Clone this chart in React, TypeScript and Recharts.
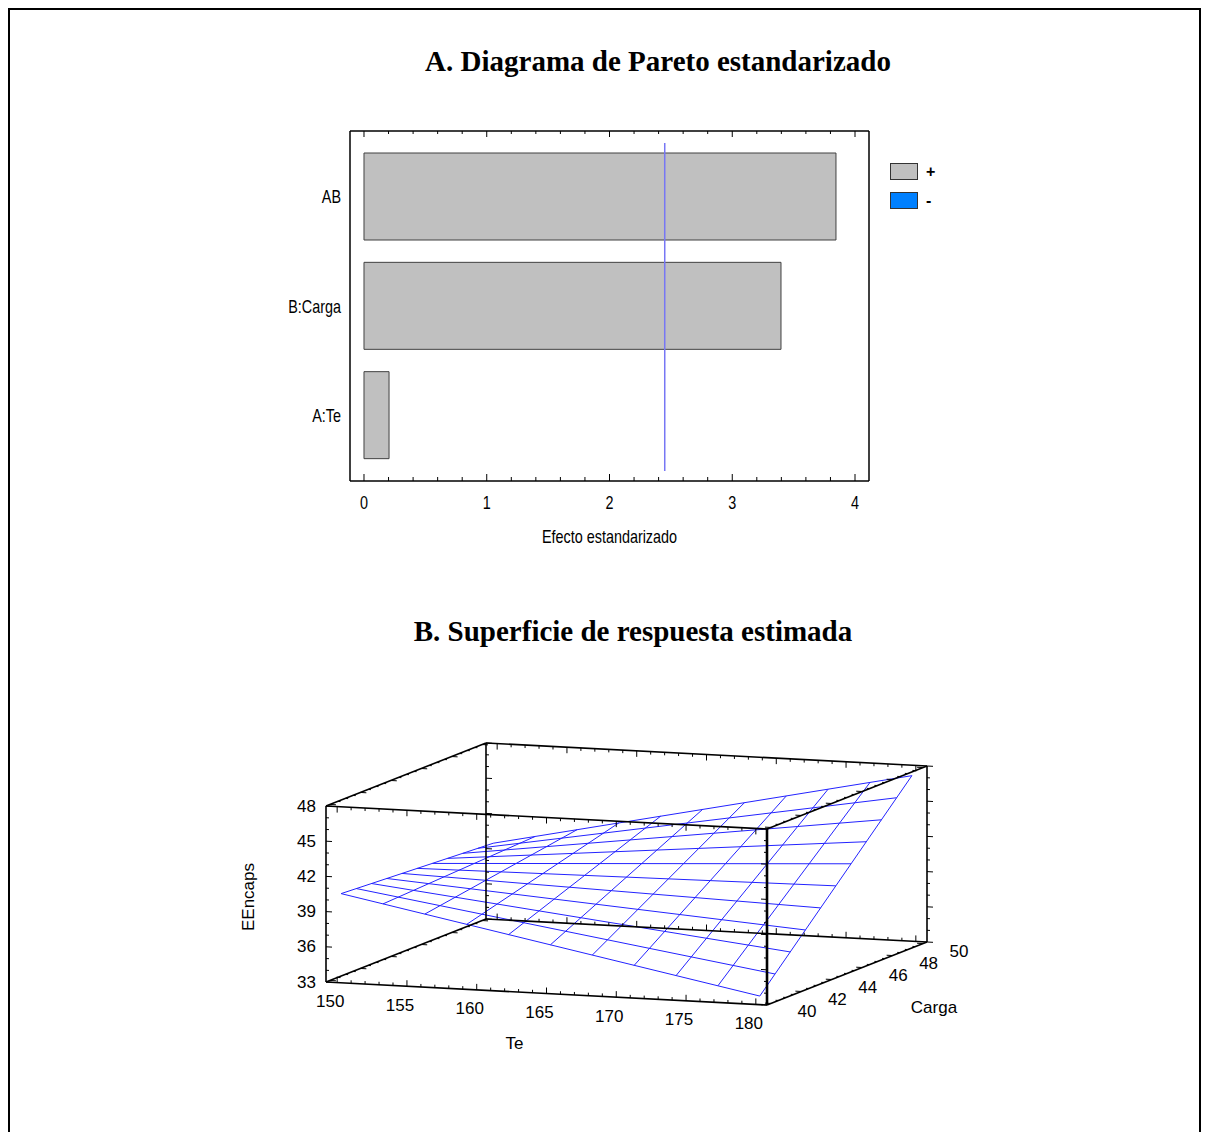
import {
  BarChart, Bar, XAxis, YAxis, ReferenceLine, Legend,
  ComposedChart, Line, Scatter,
} from 'recharts'

// ---- A. Pareto chart ----
const effectNames = ['AB', 'B:Carga', 'A:Te']
const effectValues = [3.845, 3.397, 0.204]
const effectTicks = [0, 1, 2, 3, 4]
const criticalEffect = 2.45
const signLabels = ['+', '-']
const signColors = ['#c0c0c0', '#0080ff']

// ---- B. response surface ----
const teTicks = [150, 155, 160, 165, 170, 175, 180]
const cargaTicks = [40, 42, 44, 46, 48, 50]
const eeTicks = [33, 36, 39, 42, 45, 48]
const teGrid = [150, 153, 156, 159, 162, 165, 168, 171, 174, 177, 180]
const cargaGrid = [40, 41, 42, 43, 44, 45, 46, 47, 48, 49, 50]
// EEncaps read along the four edges of the surface
const eeCarga40 = [40.45, 39.76, 39.08, 38.39, 37.7, 37.02, 36.33, 35.64, 34.95, 34.27, 33.58]
const eeCarga50 = [39.64, 40.4, 41.16, 41.93, 42.69, 43.45, 44.21, 44.97, 45.74, 46.5, 47.26]
const eeTe150 = [40.45, 40.37, 40.29, 40.21, 40.13, 40.05, 39.96, 39.88, 39.8, 39.72, 39.64]
const eeTe180 = [33.58, 34.95, 36.32, 37.68, 39.05, 40.42, 41.79, 43.16, 44.52, 45.89, 47.26]

const paretoData = effectNames.map((name, i) => ({ name, value: effectValues[i] }))
const paretoAxisTicks = Array.from({ length: 21 }, (_, i) => Math.round(i * 2) / 10)
const xDomain = [-0.114, 4.114]

const sans = "'Liberation Sans', Arial, sans-serif"
const serif = "'Liberation Serif', 'Times New Roman', serif"

function isMajor(v: number) {
  return effectTicks.some(t => Math.abs(t - v) < 1e-6)
}

// the Pareto panel uses a narrow face: Liberation Sans squeezed horizontally
function NarrowText({ x, y, anchor, children, size = 18 }: any) {
  return (
    <text transform={`translate(${x} ${y}) scale(0.8 1)`} textAnchor={anchor} dominantBaseline="central"
      fontSize={size} fontFamily={sans} fill="#000">
      {children}
    </text>
  )
}

function BottomTick({ x, y, payload }: any) {
  const major = isMajor(payload.value)
  return (
    <g>
      <line x1={x} y1={y} x2={x} y2={y - (major ? 7 : 4)} stroke="#000" />
      {major && <NarrowText x={x} y={y + 21} anchor="middle">{Math.round(payload.value)}</NarrowText>}
    </g>
  )
}

function TopTick({ x, y, payload }: any) {
  const major = isMajor(payload.value)
  return <line x1={x} y1={y} x2={x} y2={y + (major ? 6 : 3)} stroke="#000" />
}

function CategoryTick({ x, y, payload }: any) {
  return <NarrowText x={x} y={y} anchor="end">{payload.value}</NarrowText>
}

function XTitle({ viewBox }: any) {
  return (
    <NarrowText x={viewBox.x + viewBox.width / 2} y={viewBox.y + 55} anchor="middle">
      Efecto estandarizado
    </NarrowText>
  )
}

function SignLegend() {
  return (
    <div style={{ position: 'relative', width: 60, height: 50, fontFamily: sans, fontSize: 16 }}>
      {signLabels.map((s, i) => (
        <div key={s} style={{ position: 'absolute', left: 0, top: i * 29, height: 17, display: 'flex', alignItems: 'center' }}>
          <span style={{ width: 28, height: 17, boxSizing: 'border-box', border: '1px solid #333', background: signColors[i], display: 'inline-block' }} />
          <span style={{ marginLeft: 8, fontWeight: 'bold', color: '#000' }}>{s}</span>
        </div>
      ))}
    </div>
  )
}

function CriticalLine(p: any) {
  const top = Math.min(p.y1, p.y2)
  const bottom = Math.max(p.y1, p.y2)
  return <line x1={p.x1} y1={top + 12} x2={p.x2} y2={bottom - 10} stroke="#7777f4" strokeWidth={1.5} />
}

function Pareto() {
  return (
    <BarChart width={690} height={440} data={paretoData} layout="vertical"
      margin={{ top: 10, right: 91, bottom: 0, left: 0 }}>
      <XAxis type="number" domain={xDomain} allowDataOverflow ticks={paretoAxisTicks} interval={0}
        height={79} tickSize={0} tickMargin={0} tickLine={false} tick={<BottomTick />}
        axisLine={{ stroke: '#000', strokeWidth: 1.5 }} label={<XTitle />} />
      <XAxis xAxisId="top" orientation="top" type="number" domain={xDomain} allowDataOverflow
        ticks={paretoAxisTicks} interval={0} height={1} tickSize={0} tickMargin={0} tickLine={false}
        tick={<TopTick />} axisLine={{ stroke: '#000', strokeWidth: 1.5 }} />
      <YAxis type="category" dataKey="name" width={80} padding={{ top: 11, bottom: 11 }}
        tickLine={false} tickSize={0} tickMargin={9} axisLine={{ stroke: '#000', strokeWidth: 1.5 }}
        tick={<CategoryTick />} />
      <Bar dataKey="value" barSize={87} fill="#c0c0c0" stroke="#404040" strokeWidth={1} isAnimationActive={false} />
      <ReferenceLine x={xDomain[1]} stroke="#000" strokeWidth={1.5} ifOverflow="visible" />
      <ReferenceLine x={criticalEffect} shape={<CriticalLine />} />
      <Legend layout="vertical" align="center" verticalAlign="middle" content={<SignLegend />}
        wrapperStyle={{ left: 620, top: 43, width: 60 }} />
    </BarChart>
  )
}

// ---- 3-D view of the surface ----
const teBox = [149.2, 180.8]
const cargaBox = [39.74, 50.26]
const eeBox = [33, 48]
// pixels spanned on screen by each box edge (u to the right, v upwards)
const teEdge = [441, -23]
const cargaEdge = [160, 63]
const eeEdge = [0, 176]

function project(te: number, carga: number, ee: number) {
  const a = (te - teBox[0]) / (teBox[1] - teBox[0])
  const b = (carga - cargaBox[0]) / (cargaBox[1] - cargaBox[0])
  const c = (ee - eeBox[0]) / (eeBox[1] - eeBox[0])
  return {
    u: a * teEdge[0] + b * cargaEdge[0] + c * eeEdge[0],
    v: a * teEdge[1] + b * cargaEdge[1] + c * eeEdge[1],
  }
}

function unit(vec: number[], sign: number) {
  const l = Math.hypot(vec[0], vec[1])
  return [(sign * vec[0]) / l, (sign * vec[1]) / l]
}

const gridLines = [
  ...teGrid.map((te, i) => [project(te, 40, eeCarga40[i]), project(te, 50, eeCarga50[i])]),
  ...cargaGrid.map((c, j) => [project(150, c, eeTe150[j]), project(180, c, eeTe180[j])]),
]

const corner = (i: number, j: number, k: number) => project(teBox[i], cargaBox[j], eeBox[k])
const boxEdges: [any, any, number][] = [
  [corner(0, 0, 0), corner(1, 0, 0), 1.6],
  [corner(0, 0, 1), corner(1, 0, 1), 1.6],
  [corner(0, 1, 0), corner(1, 1, 0), 1.6],
  [corner(0, 1, 1), corner(1, 1, 1), 1.6],
  [corner(0, 0, 0), corner(0, 1, 0), 1.6],
  [corner(0, 0, 1), corner(0, 1, 1), 1.6],
  [corner(1, 0, 0), corner(1, 1, 0), 1.6],
  [corner(1, 0, 1), corner(1, 1, 1), 1.6],
  [corner(0, 0, 0), corner(0, 0, 1), 1.6],
  [corner(0, 1, 0), corner(0, 1, 1), 1.6],
  [corner(1, 0, 0), corner(1, 0, 1), 2.6],
  [corner(1, 1, 0), corner(1, 1, 1), 1.6],
]

function ticksAlong(from: number, to: number, step: number, majorStep: number,
  at: (t: number) => { u: number, v: number }, dir: number[]) {
  const out: any[] = []
  for (let t = from; t <= to + 1e-6; t += step) {
    const p = at(t)
    const off = (t - from) / majorStep
    const len = Math.abs(off - Math.round(off)) < 1e-6 ? 6 : 3
    out.push([p, { u: p.u + dir[0] * len, v: p.v + dir[1] * len }])
  }
  return out
}

const [t0, t1] = teBox
const [c0, c1] = cargaBox
const [z0, z1] = eeBox
const boxTicks = [
  ...ticksAlong(33, 48, 1, 3, z => project(t0, c0, z), unit(teEdge, 1)),
  ...ticksAlong(33, 48, 1, 3, z => project(t0, c1, z), unit(teEdge, 1)),
  ...ticksAlong(33, 48, 1, 3, z => project(t1, c0, z), unit(teEdge, -1)),
  ...ticksAlong(33, 48, 1, 3, z => project(t1, c1, z), unit(teEdge, 1)),
  ...ticksAlong(150, 180, 1, 5, t => project(t, c0, z0), unit(eeEdge, 1)),
  ...ticksAlong(150, 180, 1, 5, t => project(t, c0, z1), unit(eeEdge, -1)),
  ...ticksAlong(150, 180, 1, 5, t => project(t, c1, z0), unit(eeEdge, 1)),
  ...ticksAlong(150, 180, 1, 5, t => project(t, c1, z1), unit(eeEdge, -1)),
  ...ticksAlong(40, 50, 0.5, 2, c => project(t0, c, z0), unit(teEdge, 1)),
  ...ticksAlong(40, 50, 0.5, 2, c => project(t0, c, z1), unit(teEdge, 1)),
  ...ticksAlong(40, 50, 0.5, 2, c => project(t1, c, z0), unit(teEdge, -1)),
  ...ticksAlong(40, 50, 0.5, 2, c => project(t1, c, z1), unit(teEdge, -1)),
]

const eeLabels = eeTicks.map(z => ({ ...project(t0, c0, z), text: String(z), dx: -10, dy: 0, anchor: 'end', rot: 0 }))
const teLabels = teTicks.map(t => ({ ...project(t, c0, z0), text: String(t), dx: -7, dy: 19, anchor: 'middle', rot: 0 }))
const cargaLabels = cargaTicks.map(c => ({ ...project(t1, c, z0), text: String(c), dx: 36, dy: 8, anchor: 'middle', rot: 0 }))
const axisTitles = [
  { ...project(t0, c0, 40.5), text: 'EEncaps', dx: -78, dy: 3, anchor: 'middle', rot: -90 },
  { ...project(165, c0, z0), text: 'Te', dx: -32, dy: 50, anchor: 'middle', rot: 0 },
  { ...project(t1, 45, z0), text: 'Carga', dx: 87, dy: 34, anchor: 'middle', rot: 0 },
]

function LabelShape(p: any) {
  const d = p.payload
  const x = p.cx + d.dx
  const y = p.cy + d.dy
  return (
    <text x={x} y={y} textAnchor={d.anchor} dominantBaseline="central" fontSize={17}
      fontFamily={sans} fill="#000" transform={d.rot ? `rotate(${d.rot} ${x} ${y})` : undefined}>
      {d.text}
    </text>
  )
}

function Surface() {
  return (
    <ComposedChart width={760} height={360} margin={{ top: 0, right: 0, bottom: 0, left: 0 }}>
      <XAxis type="number" dataKey="u" domain={[-96, 664]} allowDataOverflow hide />
      <YAxis type="number" domain={[-78, 282]} allowDataOverflow hide />
      {gridLines.map((seg, i) => (
        <Line key={`g${i}`} data={seg} dataKey="v" type="linear" stroke="#2323ff" strokeWidth={1}
          dot={false} activeDot={false} isAnimationActive={false} />
      ))}
      {boxEdges.map(([a, b, w], i) => (
        <ReferenceLine key={`e${i}`} segment={[{ x: a.u, y: a.v }, { x: b.u, y: b.v }]}
          stroke="#000" strokeWidth={w} ifOverflow="visible" />
      ))}
      {boxTicks.map(([a, b], i) => (
        <ReferenceLine key={`t${i}`} segment={[{ x: a.u, y: a.v }, { x: b.u, y: b.v }]}
          stroke="#000" strokeWidth={1} ifOverflow="visible" />
      ))}
      {[eeLabels, teLabels, cargaLabels, axisTitles].map((labels, i) => (
        <Scatter key={`l${i}`} data={labels} dataKey="v" shape={<LabelShape />} isAnimationActive={false} />
      ))}
    </ComposedChart>
  )
}

const titleStyle: any = {
  position: 'absolute', width: 800, lineHeight: '34px', textAlign: 'center',
  fontFamily: serif, fontWeight: 'bold', fontSize: 29,
}

export default function App() {
  return (
    <div style={{ position: 'relative', width: 1193, height: 1124 }}>
      <div style={{
        position: 'absolute', left: 0, top: 0, width: 1193, height: 1124, boxSizing: 'border-box',
        borderTop: '2px solid #000', borderLeft: '2px solid #000', borderRight: '2px solid #000',
      }} />
      <div style={{ ...titleStyle, left: 250, top: 36 }}>A. Diagrama de Pareto estandarizado</div>
      <div style={{ position: 'absolute', left: 262, top: 112 }}>
        <Pareto />
      </div>
      <div style={{ ...titleStyle, left: 225, top: 606 }}>B. Superficie de respuesta estimada</div>
      <div style={{ position: 'absolute', left: 222, top: 692 }}>
        <Surface />
      </div>
    </div>
  )
}
